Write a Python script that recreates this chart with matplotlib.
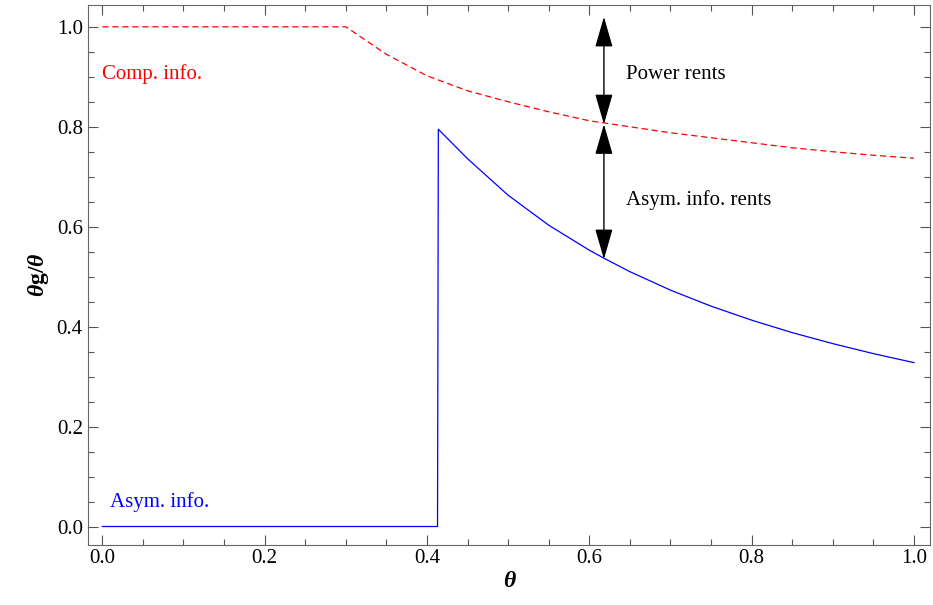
import matplotlib.pyplot as plt
from matplotlib.ticker import MultipleLocator

plt.rcParams['font.family'] = ['Liberation Serif', 'DejaVu Serif']
plt.rcParams['mathtext.fontset'] = 'custom'
plt.rcParams['mathtext.rm'] = 'Liberation Serif:bold'
plt.rcParams['mathtext.it'] = 'Liberation Serif:italic:bold'

# full-information curve (red dashed)
comp_x = [0.0, 0.30, 0.35, 0.40, 0.45, 0.50, 0.55, 0.60, 0.65, 0.70, 0.75, 0.80, 0.85, 0.90, 0.95, 1.0]
comp_y = [1.0, 1.0, 0.945, 0.902, 0.872, 0.850, 0.830, 0.812, 0.800, 0.788, 0.778, 0.768, 0.758, 0.750, 0.743, 0.737]

# asymmetric-information curve (blue)
asym_x = [0.0, 0.413, 0.414, 0.45, 0.50, 0.55, 0.60, 0.618, 0.65, 0.70, 0.75, 0.80, 0.85, 0.90, 0.95, 1.0]
asym_y = [0.0, 0.0, 0.795, 0.736, 0.663, 0.603, 0.553, 0.537, 0.510, 0.473, 0.441, 0.413, 0.388, 0.366, 0.346, 0.328]

arrow_x = 0.618
power_top, power_bot = 1.02, 0.805
asym_top, asym_bot = 0.805, 0.535

fig, ax = plt.subplots(figsize=(9.33, 6.05), dpi=100)
fig.subplots_adjust(left=0.094, right=0.997, top=0.992, bottom=0.1)

ax.plot(comp_x, comp_y, color='red', ls=(0, (5, 3)), lw=0.9)
ax.plot(asym_x, asym_y, color='blue', lw=0.9)

arrowprops = dict(arrowstyle='<|-|>,head_length=1.9,head_width=0.55', color='black', lw=1,
                  shrinkA=0, shrinkB=0)
ax.annotate('', xy=(arrow_x, power_top), xytext=(arrow_x, power_bot), arrowprops=arrowprops)
ax.annotate('', xy=(arrow_x, asym_top), xytext=(arrow_x, asym_bot), arrowprops=arrowprops)

ax.text(0.645, 0.905, 'Power rents', fontsize=15, va='center')
ax.text(0.645, 0.653, 'Asym. info. rents', fontsize=15, va='center')
ax.text(0.0, 0.905, 'Comp. info.', color='red', fontsize=15, va='center')
ax.text(0.01, 0.048, 'Asym. info.', color='blue', fontsize=15, va='center')

ax.set_xlim(-0.018, 1.02)
ax.set_ylim(-0.036, 1.044)
ax.xaxis.set_major_locator(MultipleLocator(0.2))
ax.xaxis.set_minor_locator(MultipleLocator(0.05))
ax.yaxis.set_major_locator(MultipleLocator(0.2))
ax.yaxis.set_minor_locator(MultipleLocator(0.05))
ax.xaxis.set_major_formatter(lambda v, p: f'{v:.1f}')
ax.yaxis.set_major_formatter(lambda v, p: f'{v:.1f}')
ax.tick_params(which='both', direction='in', top=True, right=True, labelsize=15,
               color='#555555', width=0.8)
ax.tick_params(which='major', length=7)
ax.tick_params(which='minor', length=4)
for s in ax.spines.values():
    s.set_color('#666666')

ax.set_xlabel('θ', fontsize=17, fontweight='bold', style='italic', labelpad=2)
ax.set_ylabel(r'$\theta\mathrm{g}/\theta$', fontsize=17, labelpad=4)

fig.savefig('out.png', dpi=100)
